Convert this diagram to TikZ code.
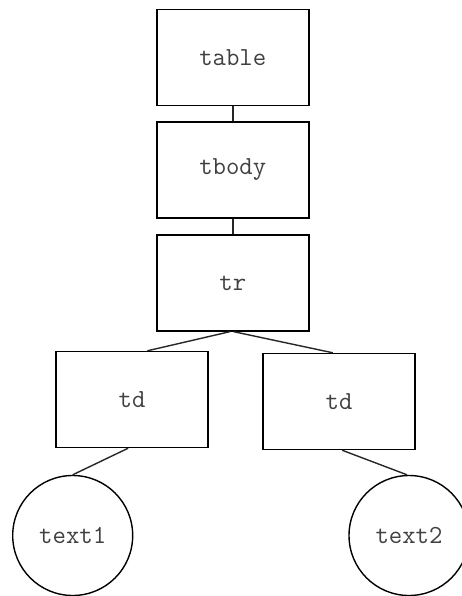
\documentclass[tikz,border=0pt]{standalone}
\usetikzlibrary{calc}
\begin{document}
\begin{tikzpicture}[x=1pt,y=-1pt,
  box/.style={draw=black,line width=1.4pt,minimum width=152pt,minimum height=96pt,inner sep=0pt,
    font=\ttfamily\fontsize{26}{28}\selectfont,text=black!75},
  leaf/.style={draw=black,line width=1.4pt,circle,minimum size=120pt,inner sep=0pt,
    font=\ttfamily\fontsize{26}{28}\selectfont,text=black!75},
  edge/.style={draw=black!85,line width=1.4pt}]
\useasboundingbox (0,0) rectangle (462,596);
\node[box] (table) at (232.8,57.5) {table};
\node[box] (tbody) at (232.8,170) {tbody};
\node[box] (tr) at (232.8,283) {tr};
\node[box] (tdl) at (132,399.5) {td};
\node[box] (tdr) at (339,401.5) {td};
\node[leaf] (t1) at (72.7,535.5) {text1};
\node[leaf] (t2) at (409,535.5) {text2};
\draw[edge] (table) -- (tbody);
\draw[edge] (tbody) -- (tr);
\draw[edge] ($(tr.south)+(-3,0)$) -- ($(tdl.north west)!0.6!(tdl.north east)$);
\draw[edge] ($(tr.south)+(1,0)$) -- ($(tdr.north west)!0.46!(tdr.north east)$);
\draw[edge] ($(tdl.south west)!0.475!(tdl.south east)$) -- (t1.north);
\draw[edge] ($(tdr.south west)!0.52!(tdr.south east)$) -- ($(t2.north)+(-2,0)$);
\end{tikzpicture}
\end{document}
